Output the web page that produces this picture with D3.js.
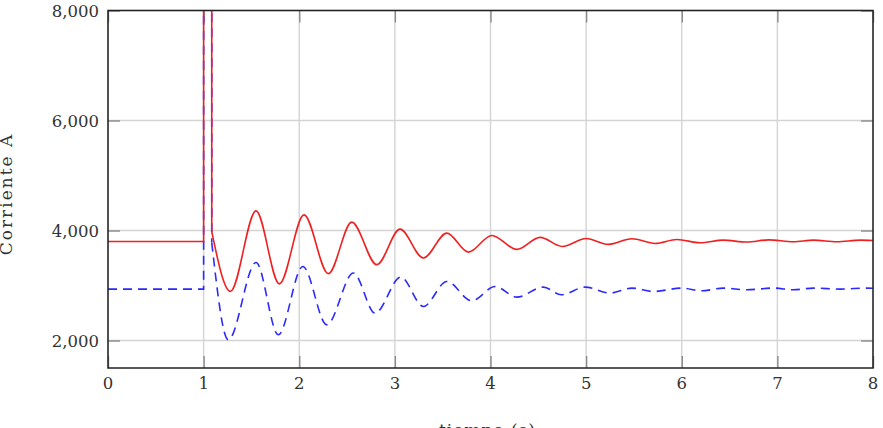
<!DOCTYPE html>
<html>
<head>
<meta charset="utf-8">
<script src="https://cdn.jsdelivr.net/npm/d3@7"></script>
<style>
  body { margin: 0; background: #fff; }
  text { font-family: "DejaVu Serif", serif; fill: #333; }
</style>
</head>
<body>
<div id="chart"></div>
<script>
// Tick values
const xTicks = [0, 1, 2, 3, 4, 5, 6, 7, 8];
const yTicks = [2000, 4000, 6000, 8000];

// Red series (solid): pre-fault level and spike, then oscillation extrema
const redStepT = [0, 1, 1, 1.085, 1.085];
const redStepV = [3800, 3800, 9000, 9000, 3980];
const redT = [1.085, 1.28, 1.548, 1.792, 2.05, 2.304, 2.549, 2.811, 3.054, 3.298,
  3.543, 3.769, 4.014, 4.275, 4.519, 4.75, 5.0, 5.233, 5.478, 5.722, 5.949,
  6.192, 6.433, 6.681, 6.907, 7.168, 7.378, 7.622, 7.866, 8.0];
const redV = [3980, 2893, 4356, 3030, 4284, 3216, 4152, 3379, 4025, 3500,
  3953, 3607, 3910, 3656, 3875, 3710, 3855, 3747, 3850, 3765, 3837,
  3777, 3825, 3790, 3830, 3795, 3825, 3795, 3825, 3818];

// Blue series (dashed)
const blueStepT = [0, 1, 1, 1.085, 1.085];
const blueStepV = [2935, 2935, 9000, 9000, 3780];
const blueT = [1.085, 1.258, 1.548, 1.781, 2.037, 2.288, 2.566, 2.793, 3.062, 3.298,
  3.543, 3.804, 4.048, 4.275, 4.553, 4.74, 4.99, 5.251, 5.478, 5.704, 6.0,
  6.209, 6.435, 6.68, 6.96, 7.168, 7.378, 7.657, 7.936, 8.0];
const blueV = [3780, 2013, 3418, 2104, 3346, 2286, 3226, 2498, 3153, 2618,
  3073, 2722, 2982, 2789, 2971, 2831, 2971, 2862, 2953, 2891, 2953,
  2904, 2953, 2922, 2953, 2922, 2953, 2935, 2953, 2950];

function drawChart() {
  const width = 883;
  const height = 428;
  const margin = { top: 10.5, right: 10, bottom: 60, left: 108 };
  const innerWidth = width - margin.left - margin.right;
  const innerHeight = height - margin.top - margin.bottom;
  const tickLen = 12;

  const svg = d3
    .select("#chart")
    .append("svg")
    .attr("width", width)
    .attr("height", height);

  const x = d3.scaleLinear().domain([0, 8]).range([0, innerWidth]);
  const y = d3.scaleLinear().domain([1500, 8000]).range([innerHeight, 0]);

  const g = svg
    .append("g")
    .attr("transform", `translate(${margin.left}, ${margin.top})`);

  g.append("clipPath")
    .attr("id", "plot-clip")
    .append("rect")
    .attr("width", innerWidth)
    .attr("height", innerHeight);

  // Grid
  g.append("g")
    .selectAll("line")
    .data(xTicks)
    .join("line")
    .attr("x1", (d) => x(d))
    .attr("x2", (d) => x(d))
    .attr("y1", 0)
    .attr("y2", innerHeight)
    .attr("stroke", "#d4d4d4")
    .attr("stroke-width", 1.4);

  g.append("g")
    .selectAll("line")
    .data(yTicks)
    .join("line")
    .attr("x1", 0)
    .attr("x2", innerWidth)
    .attr("y1", (d) => y(d))
    .attr("y2", (d) => y(d))
    .attr("stroke", "#d4d4d4")
    .attr("stroke-width", 1.4);

  // Inner ticks on all four sides
  const xAxisB = d3.axisBottom(x).tickValues(xTicks).tickSize(-tickLen).tickFormat("");
  const xAxisT = d3.axisTop(x).tickValues(xTicks).tickSize(-tickLen).tickFormat("");
  const yAxisL = d3.axisLeft(y).tickValues(yTicks).tickSize(-tickLen).tickFormat("");
  const yAxisR = d3.axisRight(y).tickValues(yTicks).tickSize(-tickLen).tickFormat("");

  [
    [xAxisB, `translate(0, ${innerHeight})`],
    [xAxisT, "translate(0, 0)"],
    [yAxisL, "translate(0, 0)"],
    [yAxisR, `translate(${innerWidth}, 0)`],
  ].forEach(([axis, tr]) => {
    const a = g.append("g").attr("transform", tr).call(axis);
    a.select(".domain").remove();
    a.selectAll(".tick line").attr("stroke", "#8a8a8a").attr("stroke-width", 1.4);
  });

  // Series
  const plot = g.append("g").attr("clip-path", "url(#plot-clip)");

  const stepLine = d3
    .line()
    .x((d) => x(d[0]))
    .y((d) => y(d[1]));
  const smoothLine = d3
    .line()
    .curve(d3.curveMonotoneX)
    .x((d) => x(d[0]))
    .y((d) => y(d[1]));

  const series = [
    { t: blueStepT, v: blueStepV, line: stepLine, color: "#2a2aff", dash: "9,6" },
    { t: blueT, v: blueV, line: smoothLine, color: "#2a2aff", dash: "9,6" },
    { t: redStepT, v: redStepV, line: stepLine, color: "#f02020", dash: null },
    { t: redT, v: redV, line: smoothLine, color: "#f02020", dash: null },
  ];

  series.forEach((s) => {
    plot
      .append("path")
      .datum(s.t.map((t, i) => [t, s.v[i]]))
      .attr("d", s.line)
      .attr("fill", "none")
      .attr("stroke", s.color)
      .attr("stroke-width", 1.6)
      .attr("stroke-dasharray", s.dash);
  });

  // Frame
  g.append("rect")
    .attr("width", innerWidth)
    .attr("height", innerHeight)
    .attr("fill", "none")
    .attr("stroke", "#222")
    .attr("stroke-width", 1.5);

  // Tick labels
  g.append("g")
    .selectAll("text")
    .data(xTicks)
    .join("text")
    .attr("x", (d) => x(d))
    .attr("y", innerHeight + 21)
    .attr("text-anchor", "middle")
    .style("font-size", "16.5px")
    .text((d) => d);

  g.append("g")
    .selectAll("text")
    .data(yTicks)
    .join("text")
    .attr("x", -9)
    .attr("y", (d) => y(d) + 6)
    .attr("text-anchor", "end")
    .style("font-size", "16.5px")
    .text((d) => d3.format(",")(d));

  // Axis titles (partly outside the picture, as in the original)
  svg
    .append("text")
    .attr("x", margin.left + innerWidth / 2 - 3)
    .attr("y", 436)
    .attr("text-anchor", "middle")
    .style("font-size", "17px")
    .style("letter-spacing", "1px")
    .text("tiempo (s)");

  svg
    .append("text")
    .attr("transform", `translate(12, 194) rotate(-90)`)
    .attr("text-anchor", "middle")
    .style("font-size", "17px")
    .style("letter-spacing", "2px")
    .text("Corriente A");
}

drawChart();
</script>
</body>
</html>
